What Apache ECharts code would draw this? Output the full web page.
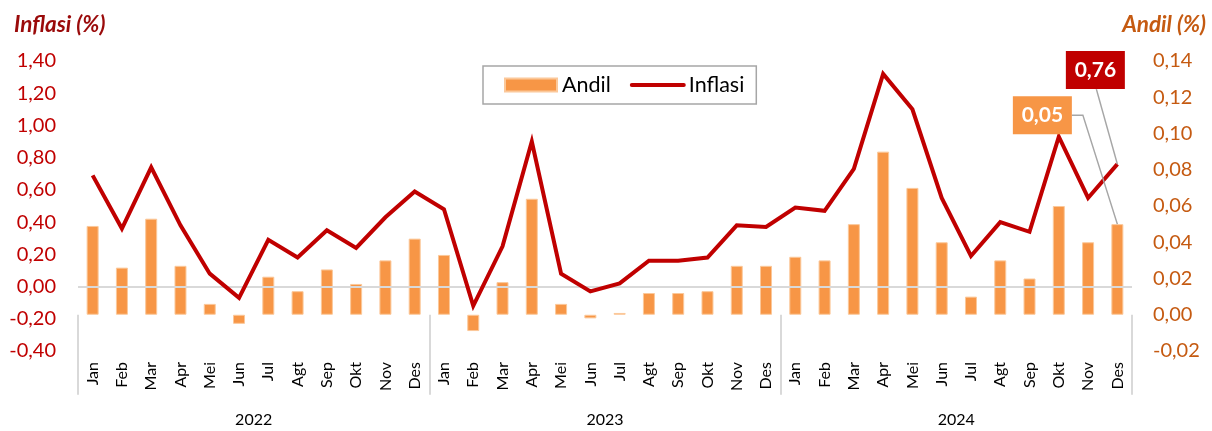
<!DOCTYPE html>
<html>
<head>
<meta charset="utf-8">
<script src="https://cdn.jsdelivr.net/npm/echarts@6/dist/echarts.min.js"></script>
<style>
html,body{margin:0;padding:0;background:#fff;}
#chart{width:1212px;height:431px;}
</style>
</head>
<body>
<div id="chart"></div>
<script>
const months = ['Jan','Feb','Mar','Apr','Mei','Jun','Jul','Agt','Sep','Okt','Nov','Des',
  'Jan','Feb','Mar','Apr','Mei','Jun','Jul','Agt','Sep','Okt','Nov','Des',
  'Jan','Feb','Mar','Apr','Mei','Jun','Jul','Agt','Sep','Okt','Nov','Des'];
const years = ['2022','2023','2024'];
const andil = [0.049, 0.026, 0.053, 0.027, 0.006, -0.005, 0.021, 0.013, 0.025, 0.017, 0.030, 0.042,
  0.033, -0.009, 0.018, 0.064, 0.006, -0.002, 0.001, 0.012, 0.012, 0.013, 0.027, 0.027,
  0.032, 0.030, 0.050, 0.090, 0.070, 0.040, 0.010, 0.030, 0.020, 0.060, 0.040, 0.050];
const inflasi = [0.69, 0.36, 0.74, 0.38, 0.08, -0.07, 0.29, 0.18, 0.35, 0.24, 0.43, 0.59,
  0.48, -0.12, 0.25, 0.90, 0.08, -0.03, 0.02, 0.16, 0.16, 0.18, 0.38, 0.37,
  0.49, 0.47, 0.73, 1.32, 1.10, 0.55, 0.19, 0.40, 0.34, 0.93, 0.55, 0.76];
const inflasiLabel = '0,76';
const andilLabel = '0,05';

const FONT = 'Lato, "Open Sans", sans-serif';
const fmt = v => v.toFixed(2).replace('.', ',');

const chart = echarts.init(document.getElementById('chart'), null, {renderer: 'canvas'});
const option = {
  animation: false,
  textStyle: {fontFamily: FONT},
  title: [
    {text: 'Inflasi (%)', left: 9, top: 8,
     textStyle: {fontFamily: FONT, fontSize: 22.5, fontWeight: 'bold', fontStyle: 'italic', color: '#9A0A0A'}},
    {text: 'Andil (%)', right: 1, top: 8,
     textStyle: {fontFamily: FONT, fontSize: 22.5, fontWeight: 'bold', fontStyle: 'italic', color: '#C55A11'}}
  ],
  legend: {
    left: 483, top: 66,
    padding: [8, 12, 8, 21],
    itemGap: 19,
    itemWidth: 52, itemHeight: 13,
    borderColor: '#A6A6A6', borderWidth: 1.5,
    textStyle: {fontFamily: FONT, fontSize: 21.5, color: '#000'},
    data: [
      {name: 'Andil', icon: 'rect'},
      {name: 'Inflasi', itemStyle: {opacity: 0}, lineStyle: {width: 4, cap: 'round'}}
    ]
  },
  grid: {left: 78, right: 80, top: 61, bottom: 80},
  xAxis: [
    {type: 'category', data: months, position: 'bottom',
     axisLine: {show: false}, axisTick: {show: false},
     axisLabel: {interval: 0, rotate: 90, margin: 11, fontSize: 16, color: '#000', fontFamily: FONT}},
    {type: 'category', data: years, position: 'bottom',
     axisLine: {show: false},
     axisTick: {show: true, length: 80, lineStyle: {color: '#D9D9D9', width: 2}},
     axisLabel: {interval: 0, margin: 61, fontSize: 16, color: '#000', fontFamily: FONT}}
  ],
  yAxis: [
    {type: 'value', min: -0.4, max: 1.4, interval: 0.2, position: 'left',
     axisLine: {show: false}, axisTick: {show: false}, splitLine: {show: false},
     axisLabel: {formatter: fmt, fontSize: 20, color: '#C00000', margin: 22, fontFamily: FONT}},
    {type: 'value', min: -0.02, max: 0.14, interval: 0.02, position: 'right',
     axisLine: {show: false}, axisTick: {show: false}, splitLine: {show: false},
     axisLabel: {formatter: fmt, fontSize: 20, color: '#C55A11', margin: 21, fontFamily: FONT}}
  ],
  series: [
    {name: 'Andil', type: 'bar', xAxisIndex: 0, yAxisIndex: 1, data: andil,
     barWidth: 12, z: 2,
     itemStyle: {color: '#F79646', borderColor: '#FBC89A', borderWidth: 1},
     emphasis: {disabled: true}},
    {name: 'Inflasi', type: 'line', xAxisIndex: 0, yAxisIndex: 0, data: inflasi,
     z: 6, symbol: 'circle', symbolSize: 0, showSymbol: false,
     lineStyle: {color: '#C00000', width: 4, join: 'miter'},
     itemStyle: {color: '#C00000'},
     emphasis: {disabled: true},
     markLine: {silent: true, symbol: ['none', 'none'], label: {show: false},
       lineStyle: {color: '#D9D9D9', width: 2, type: 'solid'},
       data: [{yAxis: 0}]}}
  ]
};
chart.setOption(option);

// annotation boxes with leader lines, anchored to the last data points
const last = months.length - 1;
const pL = chart.convertToPixel({xAxisIndex: 0, yAxisIndex: 0}, [last, inflasi[last]]);
const pB = chart.convertToPixel({xAxisIndex: 0, yAxisIndex: 1}, [last, andil[last]]);
const bw = 59, bh = 38;
const cL = [pL[0] - 22, pL[1] - 94];
const cB = [pB[0] - 75, pB[1] - 109];
chart.setOption({
  graphic: [
    {type: 'polyline', z: 50, silent: true,
     shape: {points: [[cL[0] + 1, cL[1] + bh / 2], [pL[0], pL[1]]]},
     style: {stroke: '#A6A6A6', lineWidth: 1.5, fill: null}},
    {type: 'polyline', z: 50, silent: true,
     shape: {points: [[cB[0] + bw / 2, cB[1]], [cB[0] + bw / 2 + 11, cB[1]], [pB[0], pB[1]]]},
     style: {stroke: '#A6A6A6', lineWidth: 1.5, fill: null}},
    {type: 'rect', z: 51, silent: true,
     shape: {x: cL[0] - bw / 2, y: cL[1] - bh / 2, width: bw, height: bh},
     style: {fill: '#C00000'}},
    {type: 'text', z: 52, silent: true, x: cL[0], y: cL[1],
     style: {text: inflasiLabel, fill: '#fff', font: 'bold 21px ' + FONT, align: 'center', verticalAlign: 'middle'}},
    {type: 'rect', z: 51, silent: true,
     shape: {x: cB[0] - bw / 2, y: cB[1] - bh / 2, width: bw, height: bh},
     style: {fill: '#F79646'}},
    {type: 'text', z: 52, silent: true, x: cB[0], y: cB[1],
     style: {text: andilLabel, fill: '#fff', font: 'bold 21px ' + FONT, align: 'center', verticalAlign: 'middle'}}
  ]
});
</script>
</body>
</html>
